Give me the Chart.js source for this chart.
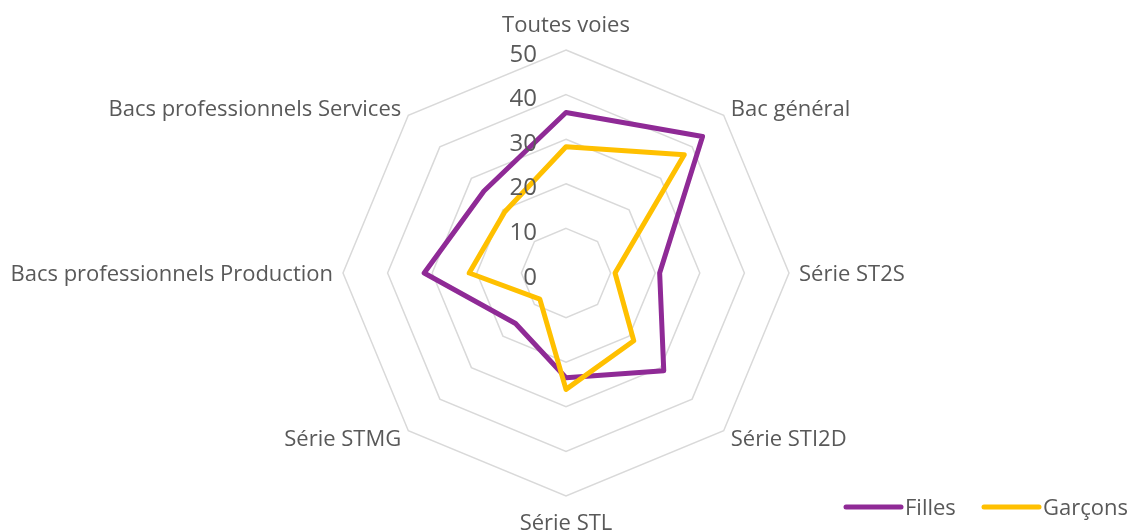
<!DOCTYPE html>
<html>
<head>
<meta charset="utf-8">
<script src="https://cdn.jsdelivr.net/npm/chart.js@4.4.1/dist/chart.umd.min.js"></script>
<style>
  html, body { margin: 0; padding: 0; background: #ffffff; }
  #wrap { width: 1131px; height: 530px; position: relative; }
</style>
</head>
<body>
<div id="wrap"><canvas id="c"></canvas></div>
<script>
const categories = ['Toutes voies', 'Bac général', 'Série ST2S', 'Série STI2D', 'Série STL', 'Série STMG', 'Bacs professionnels Production', 'Bacs professionnels Services'];
const filles = [36, 43.3, 21, 31, 23.5, 16, 31.8, 26];
const garcons = [28.3, 37.5, 11, 21.5, 26.1, 8.3, 21.7, 19.4];
const tickValues = [0, 10, 20, 30, 40, 50];
const seriesNames = ['Filles', 'Garçons'];
const seriesColors = ['#8f2a96', '#ffc000'];

const FONT = '"Open Sans", "DejaVu Sans", sans-serif';
const TEXT_COLOR = '#595959';

const labelsPlugin = {
  id: 'customLabels',
  afterDraw(chart) {
    const ctx = chart.ctx;
    const scale = chart.scales.r;
    ctx.save();
    // tick labels
    ctx.font = '24px ' + FONT;
    ctx.fillStyle = TEXT_COLOR;
    ctx.textAlign = 'right';
    ctx.textBaseline = 'alphabetic';
    tickValues.forEach(v => {
      const d = scale.getDistanceFromCenterForValue(v);
      ctx.fillText(String(v), scale.xCenter - 29, scale.yCenter - d + 11.5);
    });
    // point labels
    ctx.font = '22px ' + FONT;
    categories.forEach((lab, i) => {
      const p = scale.getPointPosition(i, scale.drawingArea + 10);
      const dx = p.x - scale.xCenter;
      const dy = p.y - scale.yCenter;
      let capMid = p.y;
      if (Math.abs(dx) < 1) {
        ctx.textAlign = 'center';
        capMid = p.y + Math.sign(dy) * 15.8;
      } else {
        ctx.textAlign = dx > 0 ? 'left' : 'right';
      }
      ctx.fillText(lab, p.x, capMid + 7.8);
    });
    // legend
    const legendItems = [
      { x0: 846, x1: 901, tx: 905 },
      { x0: 984, x1: 1039, tx: 1043 }
    ];
    const ly = 507;
    legendItems.forEach((it, k) => {
      ctx.beginPath();
      ctx.lineCap = 'round';
      ctx.lineWidth = 5;
      ctx.strokeStyle = seriesColors[k];
      ctx.moveTo(it.x0, ly);
      ctx.lineTo(it.x1, ly);
      ctx.stroke();
      ctx.textAlign = 'left';
      ctx.fillStyle = TEXT_COLOR;
      ctx.fillText(seriesNames[k], it.tx, ly + 8);
    });
    ctx.restore();
  }
};

new Chart(document.getElementById('c'), {
  type: 'radar',
  data: {
    labels: categories,
    datasets: [
      {
        label: seriesNames[0],
        data: filles,
        borderColor: seriesColors[0],
        backgroundColor: 'rgba(0,0,0,0)',
        borderWidth: 5,
        pointRadius: 0,
        pointHoverRadius: 0,
        fill: false,
        tension: 0,
        borderJoinStyle: 'round',
        order: 1
      },
      {
        label: seriesNames[1],
        data: garcons,
        borderColor: seriesColors[1],
        backgroundColor: 'rgba(0,0,0,0)',
        borderWidth: 5,
        pointRadius: 0,
        pointHoverRadius: 0,
        fill: false,
        tension: 0,
        borderJoinStyle: 'round',
        order: 0
      }
    ]
  },
  options: {
    responsive: true,
    maintainAspectRatio: false,
    animation: false,
    layout: { padding: { left: 343, right: 341, top: 50, bottom: 33 } },
    plugins: {
      legend: { display: false },
      tooltip: { enabled: false },
      title: { display: false }
    },
    scales: {
      r: {
        min: 0,
        max: 50,
        ticks: { stepSize: 10, display: false },
        pointLabels: { display: false },
        angleLines: { display: false },
        grid: { color: '#d9d9d9', lineWidth: 1.5 }
      }
    }
  },
  plugins: [labelsPlugin]
});
</script>
</body>
</html>
